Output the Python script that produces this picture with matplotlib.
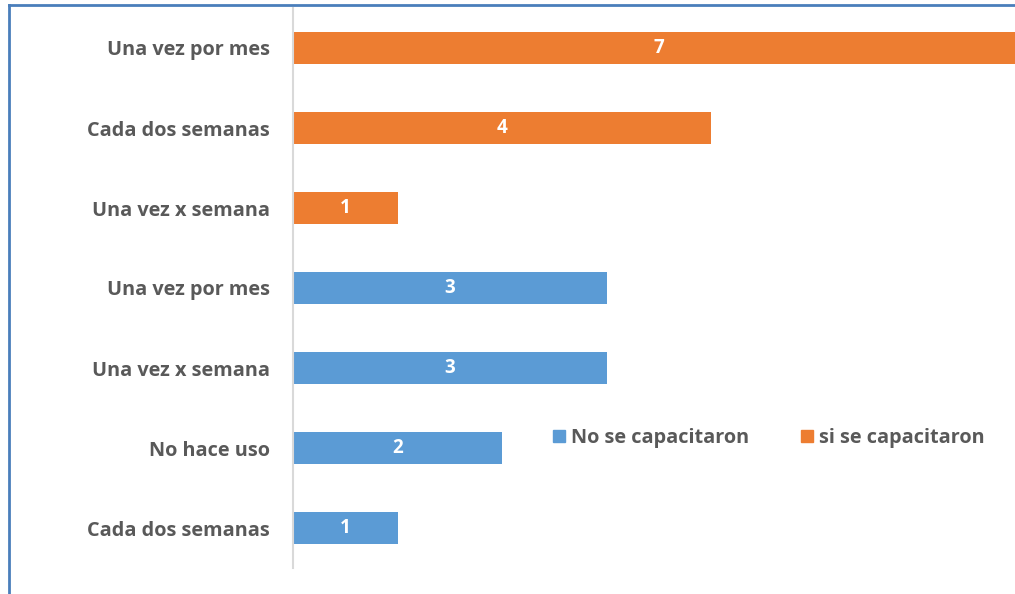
import matplotlib.pyplot as plt
from matplotlib.lines import Line2D
from matplotlib.patches import Patch

# Data (bottom to top)
categories = ["Cada dos semanas", "No hace uso", "Una vez x semana", "Una vez por mes",
              "Una vez x semana", "Cada dos semanas", "Una vez por mes"]
values = [1, 2, 3, 3, 1, 4, 7]
groups = ["no", "no", "no", "no", "si", "si", "si"]
legend_labels = ["No se capacitaron", "si se capacitaron"]

BLUE = "#5B9BD5"
ORANGE = "#ED7D31"
GRAY = "#595959"

plt.rcParams['font.family'] = ['Open Sans', 'DejaVu Sans']

fig = plt.figure(figsize=(10.15, 5.94), dpi=100)
ax = fig.add_axes([293 / 1015, 26 / 594, 732 / 1015, 560 / 594])

ypos = list(range(len(categories)))
colors = [BLUE if g == "no" else ORANGE for g in groups]
bars = ax.barh(ypos, values, height=0.4, color=colors)

for b, v in zip(bars, values):
    ax.text(b.get_x() + b.get_width() / 2, b.get_y() + b.get_height() / 2, str(v),
            ha='center', va='center', color='white', fontsize=13.5, fontweight='bold')

ax.set_xlim(0, 7)
ax.set_ylim(-0.5, 6.5)
ax.set_yticks(ypos)
ax.set_yticklabels(categories, fontsize=14.3, fontweight='bold', color=GRAY)
ax.tick_params(axis='y', length=0, pad=16.5)
ax.set_xticks([])
for s in ['top', 'right', 'bottom']:
    ax.spines[s].set_visible(False)
ax.spines['left'].set_color('#D9D9D9')
ax.spines['left'].set_linewidth(1.5)

handles = [Patch(color=BLUE), Patch(color=ORANGE)]
fig.legend(handles, legend_labels, loc='center', bbox_to_anchor=(769 / 1015, 1 - 438 / 594),
           ncol=2, frameon=False, handlelength=0.62, handleheight=0.62, handletextpad=0.3,
           columnspacing=2.6, prop={'size': 14.3, 'weight': 'bold'}, labelcolor=GRAY)

# outer border (top and left only visible)
fig.add_artist(Line2D([9 / 1015, 1], [1 - 5 / 594, 1 - 5 / 594], color='#4A7EBB', lw=2,
                      transform=fig.transFigure))
fig.add_artist(Line2D([9 / 1015, 9 / 1015], [0, 1 - 5 / 594], color='#4A7EBB', lw=2,
                      transform=fig.transFigure))

fig.savefig("out.png", dpi=100)
